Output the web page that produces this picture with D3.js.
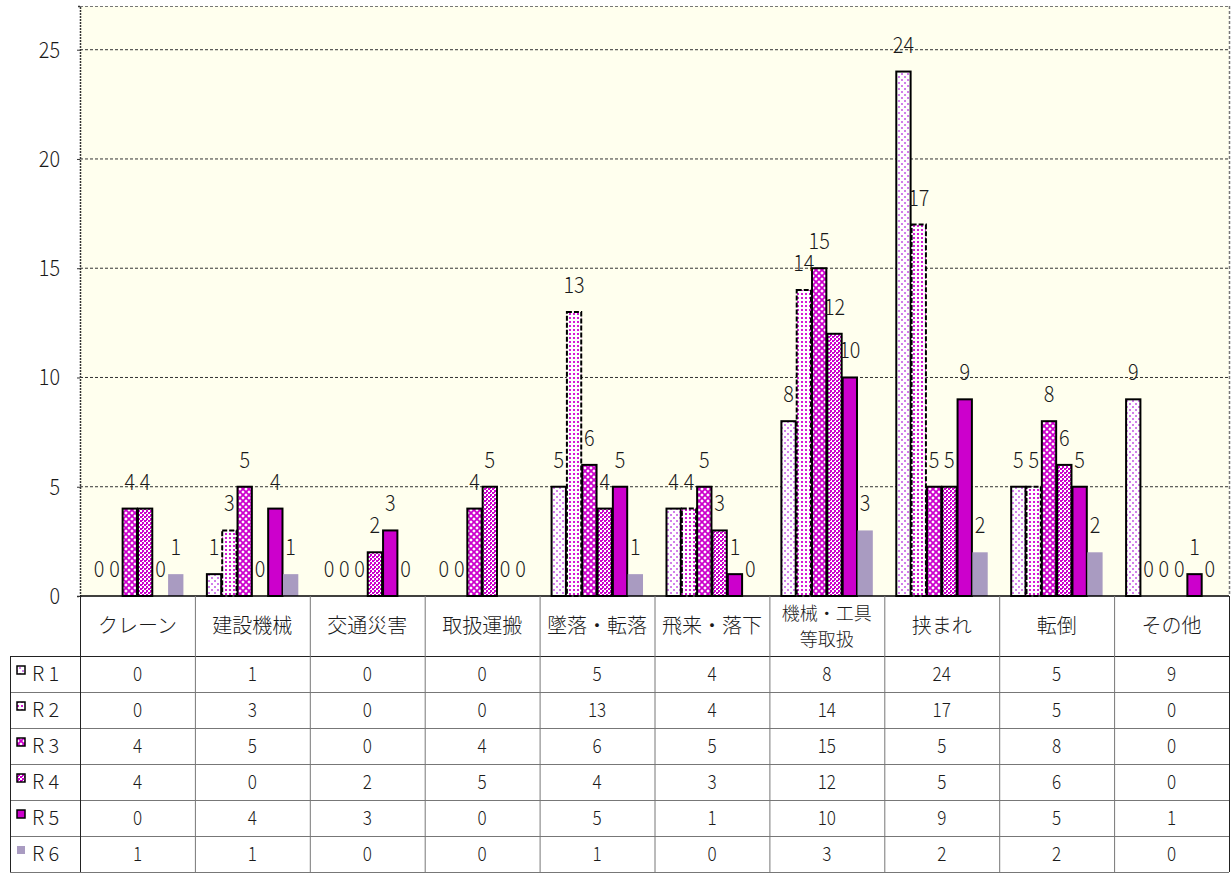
<!DOCTYPE html>
<html><head><meta charset="utf-8">
<script src="https://cdn.jsdelivr.net/npm/d3@7"></script>
<style>
body{margin:0;background:#fff;}
svg{display:block;}
.num{font-family:"Noto Sans CJK JP","Noto Sans",sans-serif;font-weight:300;}
.jp{font-family:"Noto Sans CJK JP","Noto Sans",sans-serif;font-weight:300;}
</style></head>
<body>
<script>
const categories = ["クレーン","建設機械","交通災害","取扱運搬","墜落・転落","飛来・落下","機械・工具\n等取扱","挟まれ","転倒","その他"];
const seriesNames = ["R 1","R 2","R 3","R 4","R 5","R 6"];
const r1 = [0,1,0,0,5,4,8,24,5,9];
const r2 = [0,3,0,0,13,4,14,17,5,0];
const r3 = [4,5,0,4,6,5,15,5,8,0];
const r4 = [4,0,2,5,4,3,12,5,6,0];
const r5 = [0,4,3,0,5,1,10,9,5,1];
const r6 = [1,1,0,0,1,0,3,2,2,0];
const yTicks = [0,5,10,15,20,25];
const yMax = 27;

const series = [r1,r2,r3,r4,r5,r6];
const W = 1232, H = 875;
const plot = {left:80, right:1229, top:6, bottom:596};
const rowTop = 656, rowH = 36, labelLeft = 10;

const svg = d3.select("body").append("svg").attr("width",W).attr("height",H);
const defs = svg.append("defs");
const MAG = "#CC00CC";

function pat(id,size,build){
  const p = defs.append("pattern").attr("id",id).attr("patternUnits","userSpaceOnUse")
    .attr("width",size).attr("height",size);
  build(p);
}
pat("p1",6,p=>{
  p.append("rect").attr("width",6).attr("height",6).attr("fill","#fff");
  p.append("rect").attr("x",1).attr("y",1).attr("width",2).attr("height",2).attr("fill","#D27FEA");
  p.append("rect").attr("x",4).attr("y",4).attr("width",2).attr("height",2).attr("fill","#D27FEA");
});
pat("p2",4,p=>{
  p.append("rect").attr("width",4).attr("height",4).attr("fill","#fff");
  p.append("rect").attr("x",1).attr("y",1).attr("width",2).attr("height",2).attr("fill","#D41CD4");
});
pat("p3",6,p=>{
  p.append("rect").attr("width",6).attr("height",6).attr("fill","#fff");
  p.append("path").attr("d","M0,0L6,6M6,0L0,6").attr("stroke",MAG).attr("stroke-width",1.8);
  p.append("rect").attr("x",-1).attr("y",-1).attr("width",2).attr("height",2).attr("fill",MAG);
});
pat("p4",4,p=>{
  p.append("rect").attr("width",4).attr("height",4).attr("fill","#fff");
  p.append("rect").attr("x",0).attr("y",0).attr("width",2).attr("height",2).attr("fill",MAG);
  p.append("rect").attr("x",2).attr("y",2).attr("width",2).attr("height",2).attr("fill",MAG);
  p.append("rect").attr("x",2).attr("y",0).attr("width",1).attr("height",1).attr("fill",MAG);
});
const fills = ["url(#p1)","url(#p2)","url(#p3)","url(#p4)",MAG,"#A99BC1"];
const strokes = ["#000","#000","#000","#000","#000","none"];
const dashes = [null,"5,2",null,null,null,null];

const x = d3.scaleBand().domain(d3.range(categories.length)).range([plot.left,plot.right]).paddingInner(0).paddingOuter(0);
const bw = x.bandwidth();
const xs = d3.scaleBand().domain(d3.range(series.length)).range([bw*0.1,bw*0.9]).padding(0);
const y = d3.scaleLinear().domain([0,yMax]).range([plot.bottom,plot.top]);

function numText(g, tx, ty, str, size, anchor){
  return g.append("text").attr("class","num")
    .attr("transform",`translate(${tx},${ty}) scale(0.9,1)`)
    .attr("text-anchor",anchor||"middle").attr("font-size",size).attr("fill","#1a1a1a").text(str);
}

svg.append("rect").attr("x",plot.left).attr("y",plot.top).attr("width",plot.right-plot.left)
  .attr("height",plot.bottom-plot.top).attr("fill","#FFFFEE");

svg.append("g").selectAll("line").data(yTicks.filter(d=>d>0)).join("line")
  .attr("x1",plot.left).attr("x2",plot.right).attr("y1",d=>y(d)).attr("y2",d=>y(d))
  .attr("stroke","#333").attr("stroke-dasharray","3,2").attr("stroke-width",1);
svg.append("line").attr("x1",plot.left).attr("x2",plot.right).attr("y1",plot.top+0.5).attr("y2",plot.top+0.5)
  .attr("stroke","#777").attr("stroke-dasharray","3,2");
svg.append("line").attr("x1",plot.right+0.5).attr("x2",plot.right+0.5).attr("y1",plot.top).attr("y2",plot.bottom)
  .attr("stroke","#777").attr("stroke-dasharray","3,2").attr("stroke-width",1.5);

const yAxis = d3.axisLeft(y).tickValues(yTicks).tickSize(3).tickFormat("");
const gy = svg.append("g").attr("transform",`translate(${plot.left},0)`).call(yAxis);
gy.select(".domain").attr("stroke","#333").attr("stroke-dasharray","2,1").attr("stroke-width",1.5);
gy.selectAll(".tick line").attr("stroke","#333");
const gyl = svg.append("g");
yTicks.forEach(t=>numText(gyl, 60, y(t)+8, t, 22, "end"));

series.forEach((s,si)=>{
  const g = svg.append("g");
  g.selectAll("rect").data(s).join("rect")
    .attr("x",(d,i)=>x(i)+xs(si)+(strokes[si]==="none"?0:0.5))
    .attr("y",d=>y(d))
    .attr("width",xs.bandwidth()-(strokes[si]==="none"?0:1))
    .attr("height",d=>y(0)-y(d))
    .attr("fill",fills[si])
    .attr("stroke",d=>d>0?strokes[si]:"none")
    .attr("stroke-width",2)
    .attr("stroke-dasharray",dashes[si]);
});
svg.append("line").attr("x1",plot.left).attr("x2",plot.right).attr("y1",plot.bottom).attr("y2",plot.bottom)
  .attr("stroke","#000").attr("stroke-width",1.5);

const gl = svg.append("g");
series.forEach((s,si)=>{
  s.forEach((d,i)=>numText(gl, x(i)+xs(si)+xs.bandwidth()/2, y(d)-19, d, 22));
});

const tbl = svg.append("g");
const nRows = series.length;
const tableBottom = rowTop + rowH*nRows;
const lc = "#777";
tbl.append("line").attr("x1",labelLeft).attr("x2",plot.right).attr("y1",rowTop+0.5).attr("y2",rowTop+0.5).attr("stroke","#222");
d3.range(1,nRows+1).forEach(r=>{
  tbl.append("line").attr("x1",labelLeft).attr("x2",plot.right)
    .attr("y1",rowTop+rowH*r+0.5).attr("y2",rowTop+rowH*r+0.5).attr("stroke",lc);
});
d3.range(categories.length+1).forEach(i=>{
  const xx = i<categories.length ? x(i) : plot.right;
  tbl.append("line").attr("x1",xx+0.5).attr("x2",xx+0.5).attr("y1",plot.bottom).attr("y2",tableBottom)
    .attr("stroke",(i===0||i===categories.length)?"#222":lc);
});
tbl.append("line").attr("x1",labelLeft+0.5).attr("x2",labelLeft+0.5).attr("y1",rowTop).attr("y2",tableBottom).attr("stroke","#222");

categories.forEach((c,i)=>{
  const lines = c.split("\n");
  const cy = (plot.bottom+rowTop)/2;
  const fs = lines.length>1 ? 18 : 20;
  const gap = 26;
  lines.forEach((ln,k)=>{
    tbl.append("text").attr("class","jp").attr("font-size",fs).attr("fill","#1a1a1a")
      .attr("text-anchor","middle")
      .attr("x",x(i)+bw/2)
      .attr("y",cy + (k-(lines.length-1)/2)*gap + 7).text(ln);
  });
});
series.forEach((s,si)=>{
  const cy = rowTop + rowH*si + rowH/2;
  tbl.append("rect").attr("x",17).attr("y",cy-8).attr("width",8).attr("height",8)
    .attr("fill",fills[si]).attr("stroke",strokes[si]==="none"?"none":"#000").attr("stroke-width",1.5);
  tbl.append("text").attr("class","jp").attr("x",32).attr("y",cy+7).attr("font-size",20).attr("fill","#1a1a1a")
    .text(seriesNames[si]);
  s.forEach((v,i)=>numText(tbl, x(i)+bw/2, cy+7, v, 19));
});
</script>
</body></html>
